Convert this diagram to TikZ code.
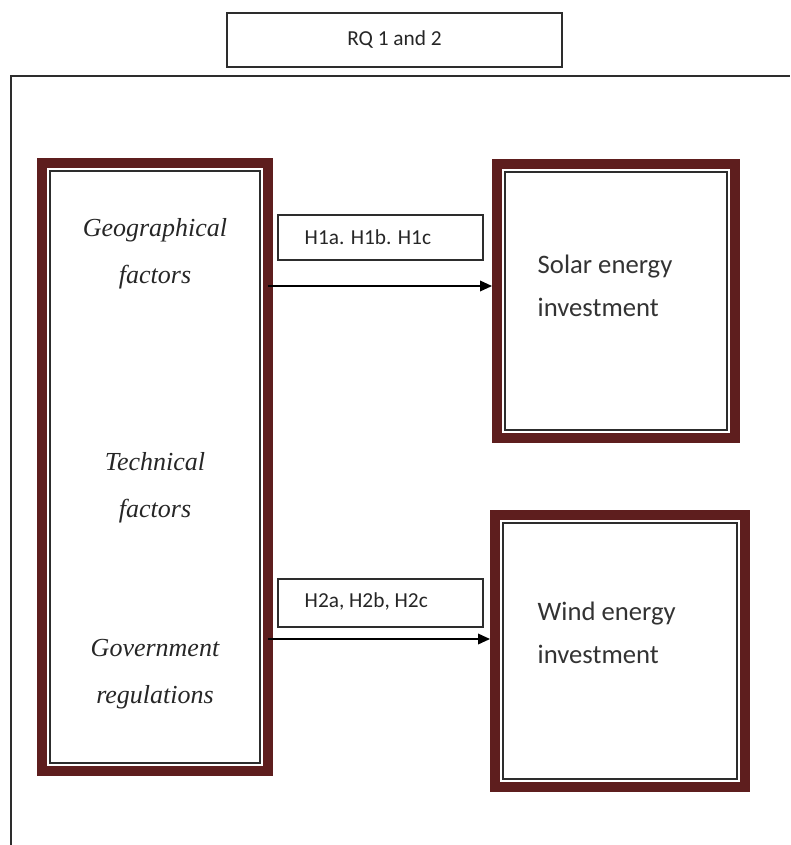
\documentclass[tikz,border=0pt]{standalone}
\usepackage{fontspec}
\setmainfont{Liberation Serif}
\newfontfamily\carl{Carlito}
\usetikzlibrary{arrows.meta,calc}
\definecolor{maroon}{RGB}{94,30,30}
\definecolor{linegray}{RGB}{45,45,45}
\tikzset{
  outerbox/.style={draw=maroon, line width=7.5pt, inner sep=0pt, outer sep=0pt},
  innerline/.style={draw=linegray, line width=1.3pt},
  labbox/.style={draw=linegray, line width=1.1pt, inner sep=0pt, outer sep=0pt},
  labtext/.style={font=\carl\fontsize{16}{18}\selectfont, text=black!85, anchor=west},
  factor/.style={font=\itshape\fontsize{19.5}{35}\selectfont, align=center, text=black!85},
  outcome/.style={font=\carl\fontsize{20}{32}\selectfont, align=left, anchor=west, text=black!80},
  arr/.style={draw=black, line width=1.1pt, -{Triangle[length=9pt,width=8pt]}},
  frameline/.style={draw=linegray, line width=1.5pt}
}
\begin{document}
\begin{tikzpicture}[x=0.75pt,y=-0.75pt]
\useasboundingbox (0,0) rectangle (790,845);
% outer frame (clipped)
\coordinate (fbl) at (11,845);
\coordinate (ftl) at (11,76);
\coordinate (ftr) at (790,76);
\draw[frameline] (fbl) -- (ftl) -- (ftr);
% RQ box
\node[labbox, minimum width=251.25pt, minimum height=40.5pt, line width=1.5pt, font=\carl\fontsize{16}{18}\selectfont, text=black!85] (rq) at (394.5,40) {RQ 1 and 2};
% left box
\node[outerbox, minimum width=169.5pt, minimum height=456pt] (left) at (155,467) {};
\draw[innerline] ($(left.north west)+(8,8)$) rectangle ($(left.south east)+(-8,-8)$);
% solar box
\node[outerbox, minimum width=178.5pt, minimum height=205.5pt] (solar) at (616,301) {};
\draw[innerline] ($(solar.north west)+(8,8)$) rectangle ($(solar.south east)+(-8,-8)$);
% wind box
\node[outerbox, minimum width=187.5pt, minimum height=204pt] (wind) at (620,651) {};
\draw[innerline] ($(wind.north west)+(8,8)$) rectangle ($(wind.south east)+(-8,-8)$);
% factor texts
\node[factor] (geo) at (155,254) {Geographical\\factors};
\node[factor] (tech) at (155,488) {Technical\\factors};
\node[factor] (gov) at (155,674) {Government\\regulations};
% outcome texts
\node[outcome] (soltxt) at (533,286) {Solar energy\\investment};
\node[outcome] (windtxt) at (533,633) {Wind energy\\investment};
% hypothesis label boxes
\node[labbox, minimum width=153.75pt, minimum height=33.75pt] (h1) at (380.5,237.5) {};
\node[labtext] (h1t) at (300,237.5) {H1a. H1b. H1c};
\node[labbox, minimum width=153.75pt, minimum height=36pt] (h2) at (380.5,603) {};
\node[labtext] (h2t) at (300,601) {H2a, H2b, H2c};
% arrows
\draw[arr, shorten >=3.75pt] (left.east |- 0,286) -- (solar.west |- 0,286);
\draw[arr, shorten >=3.75pt] (left.east |- 0,639) -- (wind.west |- 0,639);
\end{tikzpicture}
\end{document}
